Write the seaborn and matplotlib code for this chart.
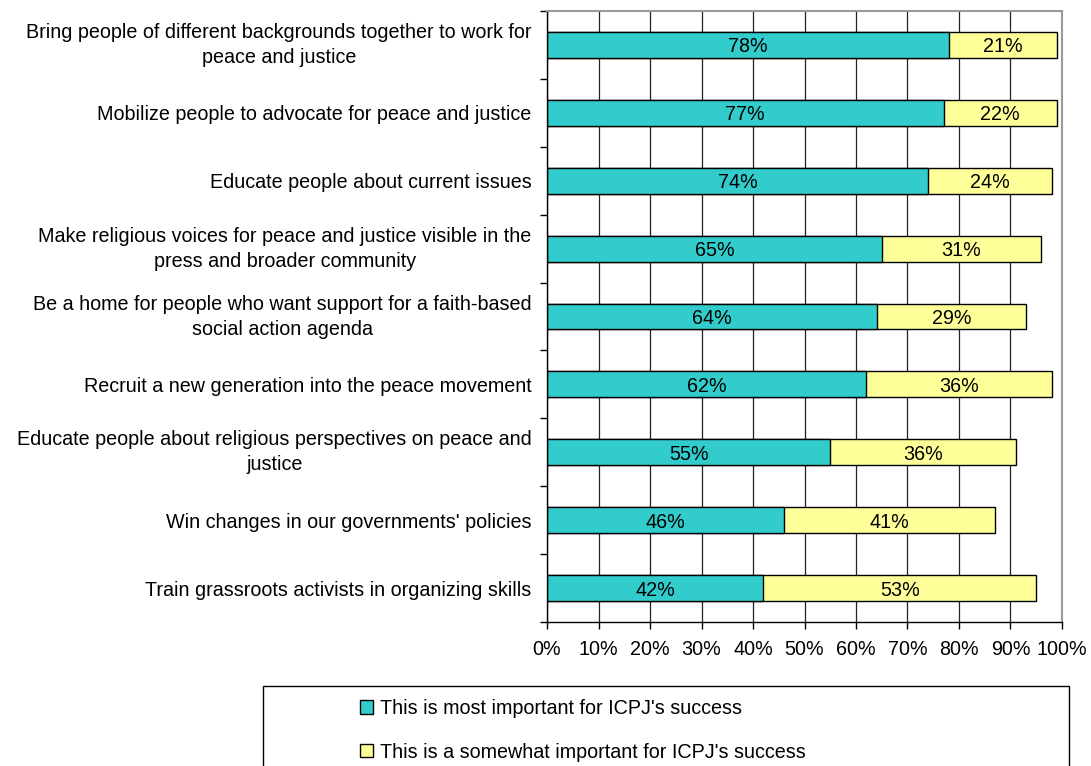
import matplotlib
matplotlib.use("Agg")
import matplotlib.pyplot as plt
from matplotlib.patches import Rectangle, Patch
from matplotlib.ticker import FixedLocator, PercentFormatter
import numpy as np
import pandas as pd
import seaborn as sns

# 데이터
categories = [
    "Bring people of different backgrounds together to work for\npeace and justice",
    "Mobilize people to advocate for peace and justice",
    "Educate people about current issues",
    "Make religious voices for peace and justice visible in the\npress and broader community",
    "Be a home for people who want support for a faith-based\nsocial action agenda",
    "Recruit a new generation into the peace movement",
    "Educate people about religious perspectives on peace and\njustice",
    "Win changes in our governments' policies",
    "Train grassroots activists in organizing skills",
]
most_important = [78, 77, 74, 65, 64, 62, 55, 46, 42]
somewhat_important = [21, 22, 24, 31, 29, 36, 36, 41, 53]
series_labels = [
    "This is most important for ICPJ's success",
    "This is a somewhat important for ICPJ's success",
]

TEAL = "#33CCCC"
YELLOW = "#FFFF99"
FS = 14.2

sns.set_theme(style="white")
plt.rcParams["font.family"] = ["Liberation Sans", "DejaVu Sans"]
plt.rcParams["text.color"] = "black"
plt.rcParams["xtick.color"] = "black"
plt.rcParams["ytick.color"] = "black"

df = pd.DataFrame({
    "category": categories,
    "most": most_important,
    "somewhat": somewhat_important,
})
df["total"] = df["most"] + df["somewhat"]

fig = plt.figure(figsize=(10.91, 7.66), dpi=100)
ax = fig.add_axes([0.5014, 0.188, 0.4720, 0.7976])

# 누적 막대: 합계(노랑) 위에 most(청록) 덮어쓰기
sns.barplot(data=df, y="category", x="total", color=YELLOW, orient="h",
            width=0.38, edgecolor="black", linewidth=1, saturation=1, ax=ax)
sns.barplot(data=df, y="category", x="most", color=TEAL, orient="h",
            width=0.38, edgecolor="black", linewidth=1, saturation=1, ax=ax)

# 값 라벨
for i, (m, s) in enumerate(zip(most_important, somewhat_important)):
    ax.text(m / 2, i, f"{m}%", ha="center", va="center_baseline", fontsize=FS, color="black")
    ax.text(m + s / 2, i, f"{s}%", ha="center", va="center_baseline", fontsize=FS, color="black")

ax.set_xlim(0, 100)
ax.set_ylim(len(categories) - 0.5, -0.5)
ax.xaxis.set_major_locator(FixedLocator(np.arange(0, 101, 10)))
ax.xaxis.set_major_formatter(PercentFormatter(decimals=0))
ax.set_xlabel("")
ax.set_ylabel("")

ax.grid(axis="x", color="#222222", linewidth=0.9)
ax.grid(axis="y", visible=False)
ax.set_axisbelow(True)

for side in ["left", "bottom"]:
    ax.spines[side].set_color("black")
    ax.spines[side].set_linewidth(1)
for side in ["top", "right"]:
    ax.spines[side].set_color("#999999")
    ax.spines[side].set_linewidth(1.5)

ax.tick_params(axis="x", direction="out", length=5, width=1, color="black",
               bottom=True, labelsize=FS, pad=8)
ax.tick_params(axis="y", which="major", length=0, labelsize=FS, pad=11)
ax.yaxis.set_minor_locator(FixedLocator(np.arange(-0.5, len(categories), 1)))
ax.tick_params(axis="y", which="minor", direction="out", length=5, width=1,
               color="black", left=True)
for lbl in ax.get_yticklabels():
    lbl.set_multialignment("center")
    if "\n" in lbl.get_text():
        lbl.set_linespacing(1.4)
        lbl.set_verticalalignment("center")

# 범례 박스
fig.add_artist(Rectangle((263 / 1091, -0.05), (1069 - 263) / 1091, (766 - 686) / 766 + 0.05,
                         transform=fig.transFigure, fill=False, edgecolor="black",
                         linewidth=1))
handles = [Patch(facecolor=TEAL, edgecolor="black", label=series_labels[0]),
           Patch(facecolor=YELLOW, edgecolor="black", label=series_labels[1])]
fig.legend(handles=handles, loc="upper left", bbox_to_anchor=(360 / 1091, 1 - 699 / 766),
           frameon=False, fontsize=FS, handlelength=0.65, handleheight=0.65,
           handletextpad=0.35, labelspacing=1.25, borderaxespad=0, borderpad=0)

fig.savefig("out.png", dpi=100)
